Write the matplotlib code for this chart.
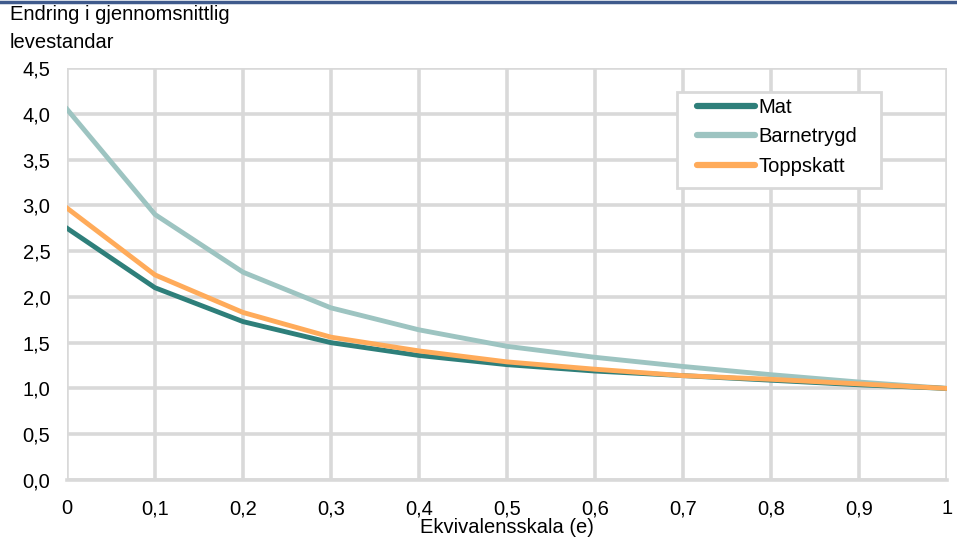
import numpy as np
import matplotlib.pyplot as plt
from matplotlib.patches import Rectangle
from matplotlib.ticker import FuncFormatter

# Data
ekvivalens = [0, 0.1, 0.2, 0.3, 0.4, 0.5, 0.6, 0.7, 0.8, 0.9, 1.0]
mat        = [2.75, 2.10, 1.73, 1.50, 1.36, 1.26, 1.19, 1.14, 1.09, 1.04, 1.00]
barnetrygd = [4.05, 2.90, 2.27, 1.88, 1.64, 1.46, 1.34, 1.24, 1.15, 1.07, 1.00]
toppskatt  = [2.97, 2.24, 1.83, 1.56, 1.41, 1.29, 1.21, 1.14, 1.10, 1.05, 1.00]

plt.rcParams['font.family'] = ['Liberation Sans', 'DejaVu Sans']
FS = 14.5
W, H = 957, 538

fig = plt.figure(figsize=(W/100, H/100), dpi=100)
ax = fig.add_axes([67/W, 58/H, 880/W, 412/H])

grid_col = '#d9d9d9'
ax.plot(ekvivalens, mat, color='#2e7f7a', lw=3.5, label='Mat', zorder=4)
ax.plot(ekvivalens, barnetrygd, color='#9dc4c1', lw=3.5, label='Barnetrygd', zorder=3)
ax.plot(ekvivalens, toppskatt, color='#ffab5a', lw=3.5, label='Toppskatt', zorder=5)

ax.set_xlim(0, 1)
ax.set_ylim(0, 4.5)
ax.set_xticks(np.arange(0, 1.01, 0.1))
ax.set_yticks(np.arange(0, 4.51, 0.5))

def comma_x(v, pos):
    if abs(v) < 1e-9:
        return '0'
    if abs(v - 1) < 1e-9:
        return '1'
    return f'{v:.1f}'.replace('.', ',')

ax.xaxis.set_major_formatter(FuncFormatter(comma_x))
ax.yaxis.set_major_formatter(FuncFormatter(lambda v, p: f'{v:.1f}'.replace('.', ',')))

ax.grid(True, color=grid_col, lw=2.6, zorder=0)
ax.set_axisbelow(True)
for s in ['top', 'right', 'left']:
    ax.spines[s].set_visible(False)
ax.spines['bottom'].set_color(grid_col)
ax.spines['bottom'].set_linewidth(2.6)
ax.tick_params(length=0, labelsize=FS, colors='black')
ax.tick_params(axis='x', pad=14)
ax.tick_params(axis='y', pad=12)

ax.set_xlabel('Ekvivalensskala (e)', fontsize=FS, labelpad=0)

fig.text(10/W, 1 - 14/H, 'Endring i gjennomsnittlig', fontsize=FS, va='center', ha='left')
fig.text(10/W, 1 - 42/H, 'levestandar', fontsize=FS, va='center', ha='left')

# blue top border
fig.add_artist(plt.Line2D([0, 1], [1 - 1.5/H, 1 - 1.5/H], color='#3f5a8c', lw=2.5))

# legend box (drawn separately so padding matches the original)
fig.add_artist(Rectangle((677/W, 1 - 188/H), (881-677)/W, (188-92)/H, transform=fig.transFigure,
                         facecolor='white', edgecolor=grid_col, lw=2, zorder=6))
leg = fig.legend(loc='upper left', bbox_to_anchor=(697/W, 1 - 98/H),
                 fontsize=FS, frameon=False, handlelength=2.9, handletextpad=0.15,
                 borderpad=0, labelspacing=0.52, borderaxespad=0)
leg.set_zorder(7)
for h in leg.get_lines():
    h.set_linewidth(4.5)
    h.set_solid_capstyle('round')

plt.savefig('out.png', dpi=100)
